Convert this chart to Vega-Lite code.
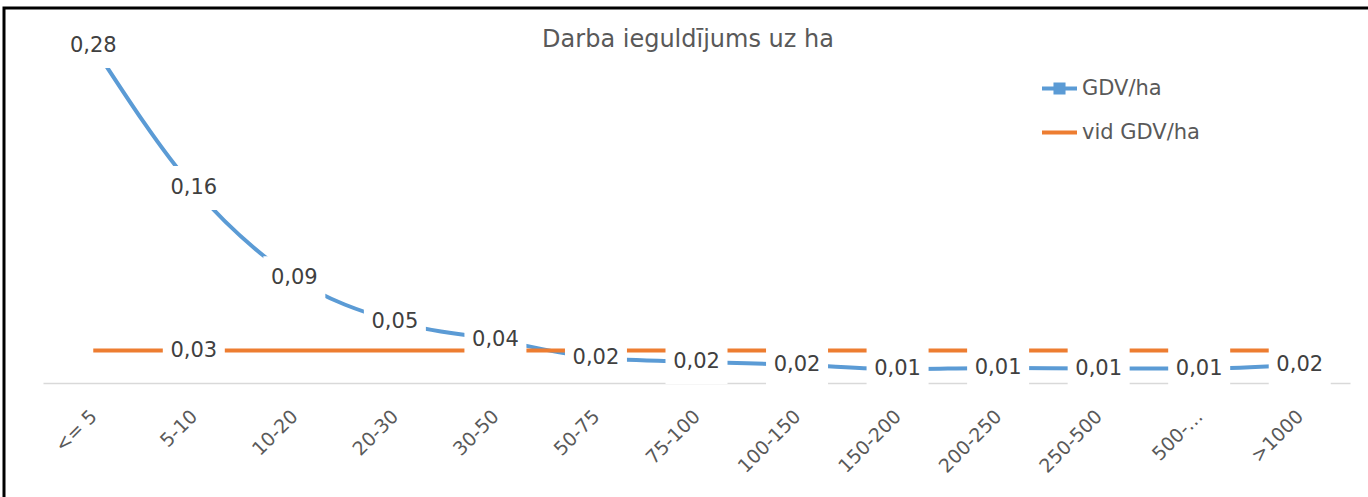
{
  "$schema": "https://vega.github.io/schema/vega-lite/v6.json",
  "width": 1400,
  "height": 520,
  "autosize": {"type": "none"},
  "padding": {"left": 4, "top": 8, "right": 0, "bottom": 0},
  "background": "white",
  "title": {"text": "Darba ieguldījums uz ha", "font": "DejaVu Sans", "fontSize": 24, "fontWeight": "normal", "color": "#595959", "anchor": "middle", "frame": "group", "baseline": "alphabetic", "offset": -63, "dx": -16},
  "data": {"values": [
    {"cat": "<= 5", "series": "GDV/ha", "value": 0.28},
    {"cat": "5-10", "series": "GDV/ha", "value": 0.162},
    {"cat": "10-20", "series": "GDV/ha", "value": 0.087},
    {"cat": "20-30", "series": "GDV/ha", "value": 0.051},
    {"cat": "30-50", "series": "GDV/ha", "value": 0.036},
    {"cat": "50-75", "series": "GDV/ha", "value": 0.021},
    {"cat": "75-100", "series": "GDV/ha", "value": 0.0175},
    {"cat": "100-150", "series": "GDV/ha", "value": 0.0152},
    {"cat": "150-200", "series": "GDV/ha", "value": 0.0115},
    {"cat": "200-250", "series": "GDV/ha", "value": 0.0125},
    {"cat": "250-500", "series": "GDV/ha", "value": 0.012},
    {"cat": "500-…", "series": "GDV/ha", "value": 0.012},
    {"cat": ">1000", "series": "GDV/ha", "value": 0.0152},
    {"cat": "<= 5", "series": "vid GDV/ha", "value": 0.027},
    {"cat": "5-10", "series": "vid GDV/ha", "value": 0.027},
    {"cat": "10-20", "series": "vid GDV/ha", "value": 0.027},
    {"cat": "20-30", "series": "vid GDV/ha", "value": 0.027},
    {"cat": "30-50", "series": "vid GDV/ha", "value": 0.027},
    {"cat": "50-75", "series": "vid GDV/ha", "value": 0.027},
    {"cat": "75-100", "series": "vid GDV/ha", "value": 0.027},
    {"cat": "100-150", "series": "vid GDV/ha", "value": 0.027},
    {"cat": "150-200", "series": "vid GDV/ha", "value": 0.027},
    {"cat": "200-250", "series": "vid GDV/ha", "value": 0.027},
    {"cat": "250-500", "series": "vid GDV/ha", "value": 0.027},
    {"cat": "500-…", "series": "vid GDV/ha", "value": 0.027},
    {"cat": ">1000", "series": "vid GDV/ha", "value": 0.027}
  ]},
  "encoding": {
    "x": {"field": "cat", "type": "ordinal", "sort": null,
      "scale": {"range": [39, 1346]},
      "axis": {"title": null, "domainColor": "#D9D9D9", "domainWidth": 1.5, "ticks": false, "grid": false, "labelAngle": -45, "labelAlign": "right", "labelBaseline": "middle", "labelFont": "DejaVu Sans", "labelFontSize": 19, "labelColor": "#595959", "labelPadding": 30, "offset": -145, "labelOverlap": false}},
    "y": {"field": "value", "type": "quantitative", "scale": {"domain": [0, 0.3], "range": [375, 14], "nice": false, "zero": true}, "axis": null}
  },
  "layer": [
    {"mark": {"type": "line", "interpolate": "monotone", "strokeWidth": 4, "strokeCap": "butt"},
     "encoding": {"color": {"field": "series", "type": "nominal",
       "scale": {"domain": ["GDV/ha", "vid GDV/ha"], "range": ["#5B9BD5", "#ED7D31"]},
       "legend": {"title": null, "orient": "none", "legendX": 1036, "legendY": 61, "symbolType": "stroke", "symbolSize": 1225, "symbolStrokeWidth": 4, "labelFont": "DejaVu Sans", "labelFontSize": 21, "labelColor": "#595959", "labelOffset": 3, "rowPadding": 12,
         "encode": {"symbols": {"update": {"shape": {"signal": "datum.value === 'GDV/ha' ? 'M-1,0H1M-0.23,-0.23H0.23V0.23H-0.23Z' : 'stroke'"}, "fill": {"scale": "color", "field": "value"}}}}}}}},
    {"transform": [{"filter": "datum.series == 'GDV/ha' || datum.cat == '5-10'"}],
     "mark": {"type": "point", "shape": "M-1,-0.71H1V0.71H-1Z", "size": 3844, "filled": true, "color": "white", "opacity": 1, "strokeWidth": 0}},
    {"transform": [{"filter": "datum.series == 'GDV/ha' || datum.cat == '5-10'"}],
     "mark": {"type": "text", "font": "DejaVu Sans", "fontSize": 21, "color": "#404040", "baseline": "middle", "align": "center"},
     "encoding": {"text": {"field": "value", "type": "quantitative", "format": ".2f"}}}
  ],
  "config": {
    "locale": {"number": {"decimal": ",", "thousands": " ", "grouping": [3], "currency": ["", ""]}},
    "view": {"stroke": "black", "strokeWidth": 3}
  }
}
